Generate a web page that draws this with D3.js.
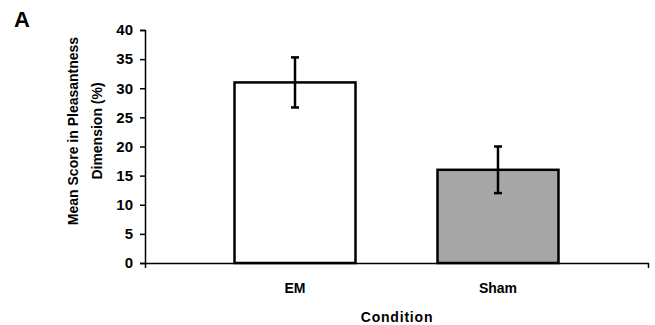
<!DOCTYPE html>
<html>
<head>
<meta charset="utf-8">
<script src="https://cdn.jsdelivr.net/npm/d3@7"></script>
<style>
  body { margin: 0; background: #fff; }
  svg { display: block; font-family: "Liberation Sans", Arial, sans-serif; }
</style>
</head>
<body>
<svg id="chart"></svg>
<script>
// data
const conditions = ["EM", "Sham"];
const meanScores = [31, 16];
const errors = [4.3, 4];
const barColors = ["#ffffff", "#a6a6a6"];
const yTicks = [0, 5, 10, 15, 20, 25, 30, 35, 40];

const width = 655;
const height = 325;
const margin = { top: 30, right: 7, bottom: 62, left: 145 };

const svg = d3.select("#chart").attr("width", width).attr("height", height);

const data = conditions.map((c, i) => ({ condition: c, value: meanScores[i], err: errors[i], color: barColors[i] }));

// x scale
const xScale = d3
  .scaleBand()
  .domain(conditions)
  .range([margin.left, width - margin.right])
  .paddingInner(0.404)
  .paddingOuter(0.441);

// y scale
const yScale = d3
  .scaleLinear()
  .domain([0, 40])
  .range([height - margin.bottom, margin.top]);

// bars
svg
  .selectAll("rect.bar")
  .data(data)
  .enter()
  .append("rect")
  .attr("class", "bar")
  .attr("x", (d) => xScale(d.condition))
  .attr("y", (d) => yScale(d.value))
  .attr("width", xScale.bandwidth())
  .attr("height", (d) => yScale(0) - yScale(d.value))
  .style("fill", (d) => d.color)
  .style("stroke", "#000")
  .style("stroke-width", 2.5);

// error bars
const cap = 4;
const cx = (d) => xScale(d.condition) + xScale.bandwidth() / 2;
const eb = svg.selectAll("g.err").data(data).enter().append("g").attr("class", "err")
  .style("stroke", "#000").style("stroke-width", 2.5);
eb.append("line")
  .attr("x1", cx)
  .attr("x2", cx)
  .attr("y1", (d) => yScale(d.value + d.err))
  .attr("y2", (d) => yScale(d.value - d.err));
eb.append("line")
  .attr("x1", (d) => cx(d) - cap)
  .attr("x2", (d) => cx(d) + cap)
  .attr("y1", (d) => yScale(d.value + d.err))
  .attr("y2", (d) => yScale(d.value + d.err));
eb.append("line")
  .attr("x1", (d) => cx(d) - cap)
  .attr("x2", (d) => cx(d) + cap)
  .attr("y1", (d) => yScale(d.value - d.err))
  .attr("y2", (d) => yScale(d.value - d.err));

// x axis
const xAxis = svg
  .append("g")
  .attr("transform", `translate(0, ${yScale(0)})`)
  .call(d3.axisBottom(xScale).tickSizeInner(0).tickSizeOuter(5).tickPadding(20));
xAxis.select(".domain").style("stroke-width", 1.5);
xAxis.selectAll("text")
  .style("font-size", "14px")
  .style("font-weight", "bold")
  .style("fill", "#000");

// y axis
const yAxis = svg
  .append("g")
  .attr("transform", `translate(${margin.left}, 0)`)
  .call(d3.axisLeft(yScale).tickValues(yTicks).tickSize(5).tickPadding(7));
yAxis.selectAll("path, line").style("stroke-width", 1.5);
yAxis.selectAll("text")
  .style("font-size", "15px")
  .style("font-weight", "bold")
  .style("fill", "#000");

// titles
svg.append("text")
  .attr("x", 397)
  .attr("y", 322)
  .attr("text-anchor", "middle")
  .style("font-size", "14px")
  .style("font-weight", "bold")
  .style("letter-spacing", "0.8px")
  .text("Condition");

const yTitle = svg.append("text")
  .attr("transform", "translate(78, 131) rotate(-90)")
  .attr("text-anchor", "middle")
  .style("font-size", "14px")
  .style("font-weight", "bold");
yTitle.append("tspan").attr("x", 0).attr("dy", 0).text("Mean Score in Pleasantness");
yTitle.append("tspan").attr("x", 0).attr("dy", 24).text("Dimension (%)");

svg.append("text")
  .attr("x", 14)
  .attr("y", 27)
  .style("font-size", "22px")
  .style("font-weight", "bold")
  .text("A");
</script>
</body>
</html>
